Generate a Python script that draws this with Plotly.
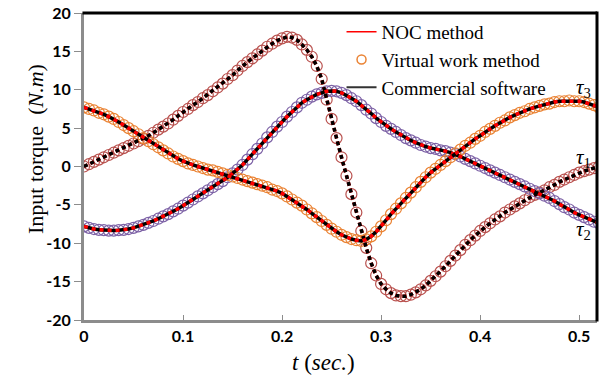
import plotly.graph_objects as go

t = [0.000, 0.005, 0.010, 0.015, 0.020, 0.025, 0.030, 0.035, 0.040, 0.045,
     0.050, 0.055, 0.060, 0.065, 0.070, 0.075, 0.080, 0.085, 0.090, 0.095,
     0.100, 0.105, 0.110, 0.115, 0.120, 0.125, 0.130, 0.135, 0.140, 0.145,
     0.150, 0.155, 0.160, 0.165, 0.170, 0.175, 0.180, 0.185, 0.190, 0.195,
     0.200, 0.205, 0.210, 0.215, 0.220, 0.225, 0.230, 0.235, 0.240, 0.245,
     0.250, 0.255, 0.260, 0.265, 0.270, 0.275, 0.280, 0.285, 0.290, 0.295,
     0.300, 0.305, 0.310, 0.315, 0.320, 0.325, 0.330, 0.335, 0.340, 0.345,
     0.350, 0.355, 0.360, 0.365, 0.370, 0.375, 0.380, 0.385, 0.390, 0.395,
     0.400, 0.405, 0.410, 0.415, 0.420, 0.425, 0.430, 0.435, 0.440, 0.445,
     0.450, 0.455, 0.460, 0.465, 0.470, 0.475, 0.480, 0.485, 0.490, 0.495,
     0.500, 0.505, 0.510, 0.515, 0.520]

tau1 = [0.0, 0.3, 0.6, 0.9, 1.2, 1.5, 1.8, 2.1, 2.4, 2.7,
        3.0, 3.3, 3.6, 4.0, 4.4, 4.8, 5.2, 5.6, 6.1, 6.6,
        7.1, 7.5, 8.0, 8.4, 8.9, 9.3, 9.8, 10.3, 10.8, 11.4,
        11.9, 12.5, 13.1, 13.6, 14.1, 14.6, 15.1, 15.6, 16.0, 16.4,
        16.7, 16.9, 16.8, 16.5, 15.9, 15.2, 14.3, 13.1, 11.4, 8.7,
        6.2, 3.7, 1.2, -1.2, -3.6, -6.0, -8.4, -10.6, -12.6, -14.2,
        -15.3, -16.0, -16.5, -16.8, -16.9, -16.9, -16.7, -16.4, -16.0, -15.5,
        -14.9, -14.3, -13.7, -13.0, -12.3, -11.6, -10.9, -10.2, -9.6, -9.0,
        -8.4, -7.9, -7.4, -6.9, -6.5, -6.0, -5.6, -5.2, -4.8, -4.4,
        -4.0, -3.7, -3.4, -3.1, -2.7, -2.4, -2.0, -1.7, -1.4, -1.1,
        -0.8, -0.6, -0.4, -0.2, 0.0]

tau2 = [-7.8, -8.0, -8.15, -8.25, -8.3, -8.35, -8.35, -8.3, -8.25, -8.15,
        -8.0, -7.8, -7.6, -7.35, -7.1, -6.8, -6.5, -6.2, -5.85, -5.5,
        -5.1, -4.7, -4.3, -3.9, -3.5, -3.1, -2.7, -2.3, -1.9, -1.4,
        -0.9, -0.4, 0.2, 0.9, 1.6, 2.3, 3.0, 3.8, 4.5, 5.2,
        5.8, 6.5, 7.1, 7.7, 8.3, 8.7, 9.1, 9.4, 9.6, 9.8,
        9.85, 9.8, 9.6, 9.3, 8.9, 8.5, 8.0, 7.4, 6.9, 6.3,
        5.8, 5.3, 4.9, 4.5, 4.1, 3.7, 3.4, 3.1, 2.8, 2.6,
        2.4, 2.3, 2.1, 2.0, 1.8, 1.6, 1.3, 1.0, 0.7, 0.4,
        0.1, -0.2, -0.5, -0.8, -1.1, -1.4, -1.7, -2.0, -2.3, -2.6,
        -2.9, -3.2, -3.5, -3.8, -4.1, -4.5, -4.9, -5.3, -5.6, -6.0,
        -6.3, -6.6, -6.9, -7.2, -7.4]

tau3 = [7.7, 7.5, 7.3, 7.0, 6.8, 6.5, 6.2, 5.8, 5.4, 5.0,
        4.6, 4.2, 3.7, 3.3, 2.9, 2.5, 2.1, 1.7, 1.3, 1.0,
        0.7, 0.4, 0.2, 0.0, -0.2, -0.4, -0.5, -0.7, -0.9, -1.1,
        -1.3, -1.5, -1.7, -1.9, -2.1, -2.3, -2.5, -2.7, -3.0, -3.2,
        -3.5, -3.9, -4.3, -4.7, -5.1, -5.6, -6.1, -6.6, -7.1, -7.6,
        -8.1, -8.5, -8.9, -9.2, -9.45, -9.6, -9.7, -9.5, -9.1, -8.5,
        -7.8, -7.0, -6.2, -5.5, -4.8, -4.1, -3.4, -2.7, -2.0, -1.4,
        -0.8, -0.3, 0.2, 0.7, 1.2, 1.7, 2.2, 2.7, 3.1, 3.6,
        4.0, 4.5, 4.9, 5.3, 5.7, 6.0, 6.4, 6.7, 7.0, 7.2,
        7.5, 7.7, 7.9, 8.1, 8.2, 8.4, 8.5, 8.5, 8.6, 8.5,
        8.5, 8.4, 8.2, 8.0, 7.7]

assert len(t) == len(tau1) == len(tau2) == len(tau3)

x_ticks = [0, 0.1, 0.2, 0.3, 0.4, 0.5]
x_tick_labels = ["0", "0.1", "0.2", "0.3", "0.4", "0.5"]
y_ticks = [-20, -15, -10, -5, 0, 5, 10, 15, 20]
y_tick_labels = ["-20", "-15", "-10", "-5", "0", "5", "10", "15", "20"]

series_names = ["NOC method", "Virtual work method", "Commercial software"]

circle_colors = {"tau1": "#B9514E", "tau2": "#7D62A6", "tau3": "#EA8334"}
data = {"tau1": tau1, "tau2": tau2, "tau3": tau3}

fig = go.Figure()

# circles (virtual work method)
for key in ["tau1", "tau2", "tau3"]:
    fig.add_trace(go.Scatter(
        x=t, y=data[key], mode="markers", showlegend=False,
        marker=dict(symbol="circle-open", size=11, color=circle_colors[key],
                    line=dict(width=1.2, color=circle_colors[key])),
        hoverinfo="skip"))

# tau1: red beneath, black dotted on top
fig.add_trace(go.Scatter(x=t, y=tau1, mode="lines", showlegend=False,
                         line=dict(color="#FF0000", width=3.5, dash="4px,3px")))
fig.add_trace(go.Scatter(x=t, y=tau1, mode="lines", showlegend=False,
                         line=dict(color="#000000", width=3.5, dash="4px,3px")))
# tau2, tau3: black beneath, red dashed on top
for key in ["tau2", "tau3"]:
    fig.add_trace(go.Scatter(x=t, y=data[key], mode="lines", showlegend=False,
                             line=dict(color="#000000", width=3.5)))
    fig.add_trace(go.Scatter(x=t, y=data[key], mode="lines", showlegend=False,
                             line=dict(color="#FF0000", width=3.5, dash="4px,4px")))

# legend entries
fig.add_trace(go.Scatter(x=[None], y=[None], mode="lines", name=series_names[0],
                         legendgroup="a", legendrank=1,
                         line=dict(color="#FF0000", width=1.5)))
fig.add_trace(go.Scatter(x=[None], y=[None], mode="markers", name=series_names[1],
                         legendgroup="b", legendrank=2,
                         marker=dict(symbol="circle-open", size=9, color="#EA8334",
                                     line=dict(width=1.5, color="#EA8334"))))
fig.add_trace(go.Scatter(x=[None], y=[None], mode="lines", name=series_names[2],
                         legendgroup="c", legendrank=3,
                         line=dict(color="#333333", width=2)))

serif = "Liberation Serif"
tick_font = dict(family="Lato", size=16, color="#000000", weight="bold")

fig.update_layout(
    width=607, height=378,
    margin=dict(l=84, r=10, t=13, b=58, autoexpand=False),
    paper_bgcolor="white", plot_bgcolor="white",
    showlegend=True,
    legend=dict(x=0.502, y=1.0, xanchor="left", yanchor="top",
                bgcolor="rgba(0,0,0,0)", borderwidth=0,
                font=dict(family=serif, size=19, color="#000000"),
                tracegroupgap=0, itemwidth=30),
    xaxis=dict(range=[0, 0.518], tickvals=x_ticks, ticktext=x_tick_labels,
               ticks="inside", ticklen=5, tickcolor="#8C8C8C", tickwidth=1,
               showline=True, linecolor="#8C8C8C", linewidth=3, automargin=False,
               showgrid=False, zeroline=False, tickfont=tick_font),
    yaxis=dict(range=[-20, 20], tickvals=y_ticks, ticktext=y_tick_labels,
               ticks="outside", ticklen=7, tickcolor="#8C8C8C", tickwidth=1,
               showline=True, linecolor="#8C8C8C", linewidth=3, automargin=False,
               showgrid=False, zeroline=False, tickfont=tick_font),
    shapes=[
        dict(type="line", xref="paper", yref="paper", x0=-0.003, x1=1, y0=1, y1=1,
             line=dict(color="#000000", width=3), layer="above"),
        dict(type="line", xref="paper", yref="paper", x0=1, x1=1, y0=-0.005, y1=1.005,
             line=dict(color="#000000", width=3), layer="above"),
    ],
    annotations=[
        dict(text="Input torque  (<i>N.m</i>)", xref="paper", yref="paper",
             x=-0.0955, y=0.557, textangle=-90, showarrow=False,
             xanchor="center", yanchor="middle",
             font=dict(family=serif, size=22, color="#000000")),
        dict(text="<i>t</i> (<i>sec.</i>)", xref="paper", yref="paper",
             x=0.466, y=-0.14, showarrow=False, xanchor="center", yanchor="middle",
             font=dict(family=serif, size=23, color="#000000")),
        dict(text="<i>τ</i><sub>3</sub>", xref="x", yref="y", x=0.5045, y=10.2,
             showarrow=False, font=dict(family=serif, size=21, color="#000000")),
        dict(text="<i>τ</i><sub>1</sub>", xref="x", yref="y", x=0.5045, y=1.1,
             showarrow=False, font=dict(family=serif, size=21, color="#000000")),
        dict(text="<i>τ</i><sub>2</sub>", xref="x", yref="y", x=0.5045, y=-8.3,
             showarrow=False, font=dict(family=serif, size=21, color="#000000")),
    ],
)

fig.write_html("out.html", config={"displayModeBar": False},
               post_script="document.body.style.margin='0px';")
